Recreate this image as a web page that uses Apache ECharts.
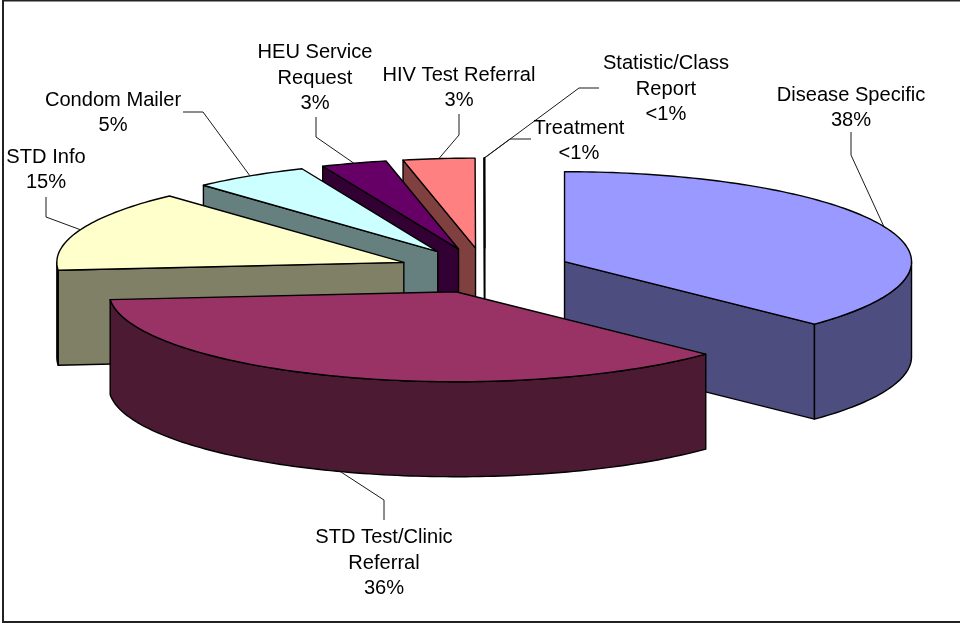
<!DOCTYPE html>
<html><head><meta charset="utf-8">
<style>html,body{margin:0;padding:0;background:#fff;overflow:hidden}#c{width:960px;height:623px}</style>
<script src="https://cdn.jsdelivr.net/npm/echarts@6/dist/echarts.min.js"></script>
</head><body><div id="c"></div>
<script>
// Data
const categories = ['Disease Specific','STD Test/Clinic Referral','STD Info','Condom Mailer','HEU Service Request','HIV Test Referral','Treatment','Statistic/Class Report'];
const shares = [37.2,36.4,14.6,5.4,3.05,3.33,0.01,0.01];
const percentLabels = ['38%','36%','15%','5%','3%','3%','<1%','<1%'];
const labelLines = [['Disease Specific'],['STD Test/Clinic','Referral'],['STD Info'],['Condom Mailer'],['HEU Service','Request'],['HIV Test Referral'],['Treatment'],['Statistic/Class','Report']];

// Colours and layout
const topColors = ['#9999FF','#993366','#FFFFCC','#CCFFFF','#660066','#FF8080','#0066CC','#CCCCFF'];
const sideColors = ['#4D4D80','#4D1A33','#808066','#668080','#330033','#804040','#003366','#666680'];
const paintOrder = [7,6,5,4,3,2,0,1];
const pie = {cx:484.7, cy:270.5, rx:347, ry:90, depth:95, explode:0.25};
const labelPos = [[851,108],[384,563],[46,170],[113,113],[315,78],[459,88],[579,141],[666,89]];
const elbows = [[[851,155],[851,132]],[[384,500],[384,520]],[[46,217],[46,197]],[[203,112],[183,112]],[[316,137],[316,117]],[[459,135],[459,114]],[[510,139],[531,139]],[[579,88],[599,88]]];

const total = shares.reduce((a,b)=>a+b,0);
const starts = []; shares.reduce((s,v,i)=>(starts[i]=s, s+v),0);
const rad = p => p/total*Math.PI*2;

function renderSlice(params, api){
  const i = api.value(0), share = api.value(1);
  const a0 = rad(starts[i]), a1 = a0 + rad(share), mid = (a0+a1)/2;
  const {cx,cy,rx,ry,depth,explode} = pie;
  const ax = cx + explode*rx*Math.sin(mid), ay = cy - explode*ry*Math.cos(mid);
  const P = (a,d=0)=>[ax+rx*Math.sin(a), ay-ry*Math.cos(a)+d];
  const arc = (f,t,d=0)=>{const n=Math.max(2,Math.ceil((t-f)/0.02)),r=[];for(let k=0;k<=n;k++)r.push(P(f+(t-f)*k/n,d));return r;};
  const base = paintOrder.indexOf(i)*10;
  const line = {stroke:'#000',lineWidth:1.4,lineJoin:'round'};
  const poly = (pts,fill,z)=>({type:'polygon',z2:base+z,shape:{points:pts},style:Object.assign({fill},line)});
  const kids = [];
  const side = sideColors[i], top = topColors[i];
  const quad = a=>{const p=P(a);return [[ax,ay],p,[p[0],p[1]+depth],[ax,ay+depth]];};
  if(Math.sin(a0)<-1e-6) kids.push(poly(quad(a0),side,1));
  if(Math.sin(a1)>1e-6) kids.push(poly(quad(a1),side,1));
  const f = Math.max(a0,Math.PI/2), t = Math.min(a1,Math.PI*1.5);
  if(t>f) kids.push(poly(arc(f,t).concat(arc(f,t,depth).reverse()),side,2));
  kids.push(poly([[ax,ay]].concat(arc(a0,a1)),top,3));
  // leader line + label
  const front = -Math.cos(mid)>0;
  const anchor = P(mid, front?depth:0);
  kids.push({type:'polyline',z2:500,shape:{points:[anchor].concat(elbows[i])},style:{stroke:'#1a1a1a',lineWidth:1,fill:null}});
  kids.push({type:'text',z2:600,x:labelPos[i][0],y:labelPos[i][1],style:{
    text:labelLines[i].concat(percentLabels[i]).join('\n'),
    font:'20.1px "Liberation Sans", Arial, sans-serif',lineHeight:25.5,
    fill:'#000',align:'center',verticalAlign:'middle'}});
  return {type:'group',children:kids};
}

const chart = echarts.init(document.getElementById('c'));
chart.setOption({
  animation:false,
  backgroundColor:'#fff',
  graphic:[{type:'rect',z:-1,shape:{x:3,y:0.5,width:1000,height:621.5},style:{fill:'#fff',stroke:'#222',lineWidth:2}}],
  series:[{type:'custom',coordinateSystem:'none',renderItem:renderSlice,silent:true,
    data:categories.map((c,i)=>({name:c,value:[i,shares[i]]}))}]
});
</script></body></html>
